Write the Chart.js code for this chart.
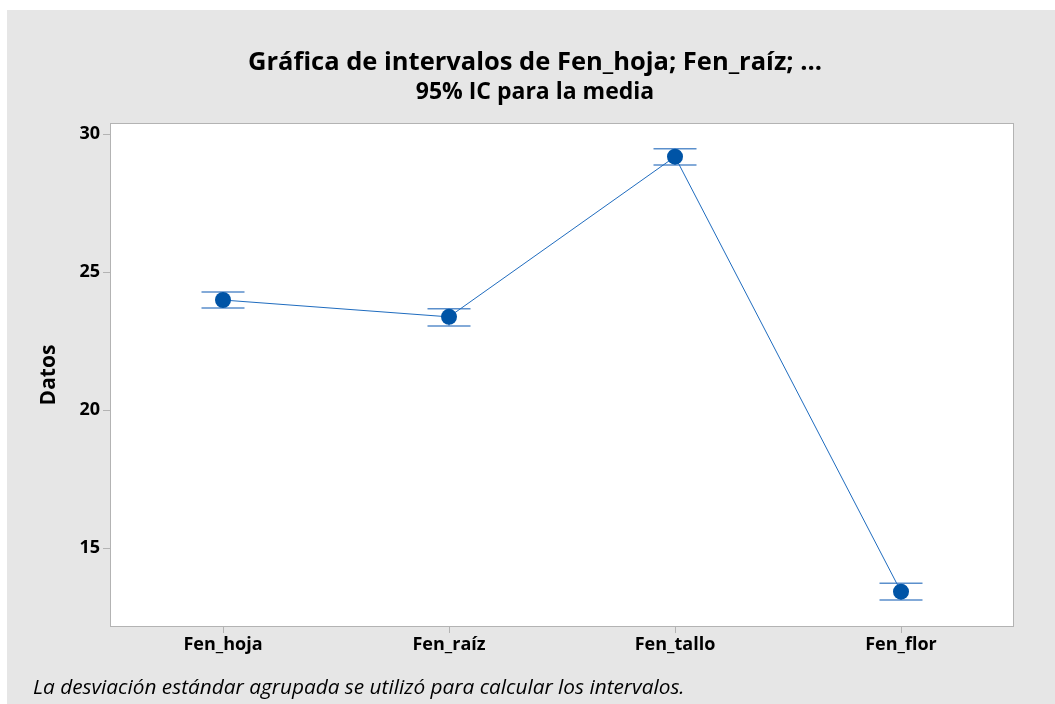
<!DOCTYPE html>
<html>
<head>
<meta charset="utf-8">
<script src="https://cdn.jsdelivr.net/npm/chart.js@4.4.0/dist/chart.umd.min.js"></script>
<style>
  body { margin: 0; background: #ffffff; overflow: hidden; }
  #wrap { position: absolute; left: 7px; top: 10px; width: 1056px; height: 694px; background: #e6e6e6; }
  #note { position: absolute; left: 26px; top: 664px; font: italic 20.8px/24px "Open Sans", sans-serif; color: #000; white-space: nowrap; }
</style>
</head>
<body>
<div id="wrap">
  <canvas id="myChart" width="1056" height="694"></canvas>
  <div id="note">La desviación estándar agrupada se utilizó para calcular los intervalos.</div>
</div>
<script>
// Interval plot: mean with 95% CI, pooled SD

const categories = ['Fen_hoja', 'Fen_raíz', 'Fen_tallo', 'Fen_flor'];
const means = [23.99, 23.38, 29.18, 13.43];
const ciLow = [23.70, 23.05, 28.88, 13.13];
const ciHigh = [24.28, 23.67, 29.47, 13.73];
const yTicks = [15, 20, 25, 30];

const fontFam = '"Open Sans", sans-serif';

// white plot area and box border
const frame = {
    id: 'frame',
    beforeDraw(chart) {
        const {ctx, chartArea: a} = chart;
        ctx.save();
        ctx.fillStyle = '#ffffff';
        ctx.fillRect(a.left, a.top, a.right - a.left, a.bottom - a.top);
        ctx.restore();
    },
    afterDraw(chart) {
        const {ctx, chartArea: a} = chart;
        ctx.save();
        ctx.strokeStyle = '#b3b3b3';
        ctx.lineWidth = 1;
        ctx.strokeRect(a.left + 0.5, a.top + 0.5, a.right - a.left - 1, a.bottom - a.top - 1);
        ctx.restore();
    }
};

// CI bars drawn from the scales
const ciBars = {
    id: 'ciBars',
    beforeDatasetsDraw(chart) {
        const {ctx, scales: {x, y}} = chart;
        ctx.save();
        ctx.strokeStyle = '#5b8fcc';
        ctx.lineWidth = 1.5;
        categories.forEach((c, i) => {
            const px = x.getPixelForValue(i);
            const yl = y.getPixelForValue(ciLow[i]);
            const yh = y.getPixelForValue(ciHigh[i]);
            ctx.beginPath();
            ctx.moveTo(px - 21.5, yh); ctx.lineTo(px + 21.5, yh);
            ctx.moveTo(px - 21.5, yl); ctx.lineTo(px + 21.5, yl);
            ctx.moveTo(px, yh); ctx.lineTo(px, yl);
            ctx.stroke();
        });
        ctx.restore();
    }
};

const ctx = document.getElementById('myChart');
const myChart = new Chart(ctx, {
    type: 'line',
    data: {
        labels: categories,
        datasets: [{
            data: means,
            borderColor: '#1f6cbf',
            borderWidth: 1,
            pointRadius: 8,
            pointBackgroundColor: '#0054a6',
            pointBorderColor: '#0054a6',
            pointBorderWidth: 0,
            tension: 0
        }]
    },
    options: {
        responsive: false,
        animation: false,
        layout: { padding: { left: 0, right: 0, top: 0, bottom: 48 } },
        scales: {
            x: {
                type: 'category',
                offset: true,
                grid: { drawOnChartArea: false, tickLength: 6, color: '#b3b3b3', offset: false },
                border: { display: false },
                ticks: { color: '#000', padding: 1, font: { family: fontFam, size: 18, weight: 'bold' } },
                afterFit(s) { s.height = 29; }
            },
            y: {
                min: 12.15,
                max: 30.4,
                grid: { drawOnChartArea: false, tickLength: 7, color: '#b3b3b3' },
                border: { display: false },
                ticks: {
                    stepSize: 5,
                    includeBounds: false,
                    color: '#000',
                    padding: 3,
                    font: { family: fontFam, size: 18, weight: 'bold' }
                },
                afterBuildTicks(s) { s.ticks = yTicks.map(v => ({ value: v })); },
                afterFit(s) { s.width = 103; },
                title: {
                    display: true,
                    text: 'Datos',
                    color: '#000',
                    padding: { top: 29, bottom: 0 },
                    font: { family: fontFam, size: 21, weight: 'bold' }
                }
            },
            // empty right margin so the titles center on the whole canvas
            yRight: {
                position: 'right',
                min: 0,
                max: 1,
                grid: { display: false },
                border: { display: false },
                ticks: { display: false },
                afterFit(s) { s.width = 49; }
            }
        },
        plugins: {
            legend: { display: false },
            tooltip: { enabled: false },
            title: {
                display: true,
                text: 'Gráfica de intervalos de Fen_hoja; Fen_raíz; ...',
                color: '#000',
                font: { family: fontFam, size: 25.5, weight: 'bold' },
                padding: { top: 37, bottom: 1 }
            },
            subtitle: {
                display: true,
                text: '95% IC para la media',
                color: '#000',
                font: { family: fontFam, size: 23, weight: 'bold' },
                padding: { top: 0, bottom: 16.8 }
            }
        }
    },
    plugins: [frame, ciBars]
});
</script>
</body>
</html>
